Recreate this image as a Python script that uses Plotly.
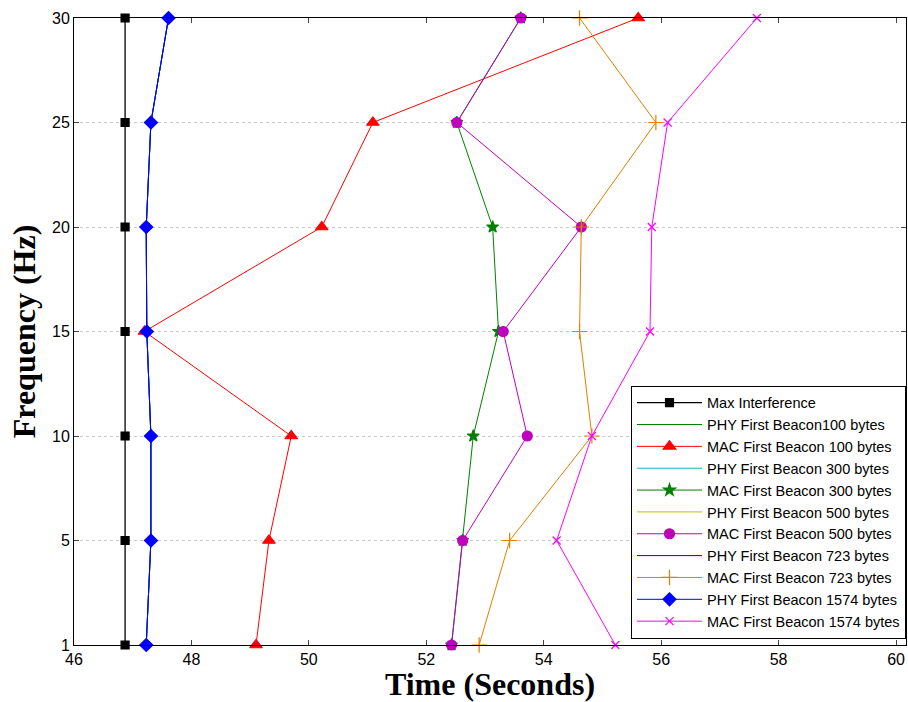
import plotly.graph_objects as go

freq = ["1", "5", "10", "15", "20", "25", "30"]

max_interference = [46.87, 46.87, 46.87, 46.87, 46.87, 46.87, 46.87]
phy_100 = [47.23, 47.31, 47.31, 47.24, 47.23, 47.31, 47.61]
mac_100 = [49.10, 49.32, 49.70, 47.20, 50.22, 51.09, 55.61]
phy_300 = [47.23, 47.31, 47.31, 47.24, 47.23, 47.31, 47.61]
mac_300 = [52.43, 52.62, 52.80, 53.23, 53.13, 52.52, 53.61]
phy_500 = [47.23, 47.31, 47.31, 47.24, 47.23, 47.31, 47.61]
mac_500 = [52.43, 52.62, 53.72, 53.31, 54.64, 52.52, 53.61]
phy_723 = [47.23, 47.31, 47.31, 47.24, 47.23, 47.31, 47.61]
mac_723 = [52.90, 53.42, 54.82, 54.61, 54.64, 55.91, 54.61]
phy_1574 = [47.23, 47.31, 47.31, 47.24, 47.23, 47.31, 47.61]
mac_1574 = [55.22, 54.22, 54.82, 55.81, 55.84, 56.11, 57.63]

x_ticks = [46, 48, 50, 52, 54, 56, 58, 60]

series = [
    ("Max Interference", max_interference, "#000000", "square", 8),
    ("PHY First Beacon100 bytes", phy_100, "#008000", None, 0),
    ("MAC First Beacon 100 bytes", mac_100, "#FF0000", "triangle-up", 11),
    ("PHY First Beacon 300 bytes", phy_300, "#00BFBF", None, 0),
    ("MAC First Beacon 300 bytes", mac_300, "#008000", "star", 9),
    ("PHY First Beacon 500 bytes", phy_500, "#BFBF00", None, 0),
    ("MAC First Beacon 500 bytes", mac_500, "#BF00BF", "circle", 10),
    ("PHY First Beacon 723 bytes", phy_723, "#0000FF", None, 0),
    ("MAC First Beacon 723 bytes", mac_723, "#E08000", "cross-thin-open", 11),
    ("PHY First Beacon 1574 bytes", phy_1574, "#0000FF", "diamond", 10),
    ("MAC First Beacon 1574 bytes", mac_1574, "#FF00FF", "x-thin-open", 8),
]

fig = go.Figure()
for name, xs, color, sym, size in series:
    if sym is None:
        fig.add_trace(go.Scatter(x=xs, y=freq, name=name, mode="lines",
                                 cliponaxis=False,
                                 line=dict(color=color, width=1)))
    else:
        fig.add_trace(go.Scatter(
            x=xs, y=freq, name=name, mode="lines+markers", cliponaxis=False,
            line=dict(color=color, width=1.3 if name == "Max Interference" else 1),
            marker=dict(symbol=sym, size=size, color=color,
                        line=dict(color=color, width=1.2))))

fig.update_layout(
    width=908, height=702,
    margin=dict(l=74, r=2, t=18, b=57),
    paper_bgcolor="white", plot_bgcolor="white",
    font=dict(family="Liberation Sans, Arial, sans-serif", size=16, color="black"),
    legend=dict(
        x=1.0, y=0.01, xanchor="right", yanchor="bottom",
        bgcolor="white", bordercolor="black", borderwidth=1,
        font=dict(family="Liberation Sans, Arial, sans-serif", size=14.5),
        tracegroupgap=0, itemwidth=65,
    ),
    xaxis=dict(
        range=[46, 60.17], tickvals=x_ticks, ticks="inside", ticklen=5,
        showline=True, linecolor="black", linewidth=1, mirror="ticks",
        showgrid=False, zeroline=False, automargin=False,
        title=dict(text="<b>Time (Seconds)</b>", standoff=6,
                   font=dict(family="Liberation Serif, Times New Roman, serif", size=32)),
    ),
    yaxis=dict(
        type="category", categoryorder="array", categoryarray=freq,
        range=[0, 6], ticks="inside", ticklen=5,
        showline=True, linecolor="black", linewidth=1, mirror="ticks",
        showgrid=True, gridcolor="#C8C8C8", griddash="dot", gridwidth=1,
        zeroline=False, automargin=False,
        title=dict(text="<b>Frequency (Hz)</b>", standoff=6,
                   font=dict(family="Liberation Serif, Times New Roman, serif", size=32)),
    ),
)

fig.write_html("out.html", config={"displayModeBar": False},
               post_script="document.body.style.margin='0';document.body.style.overflow='hidden';")
